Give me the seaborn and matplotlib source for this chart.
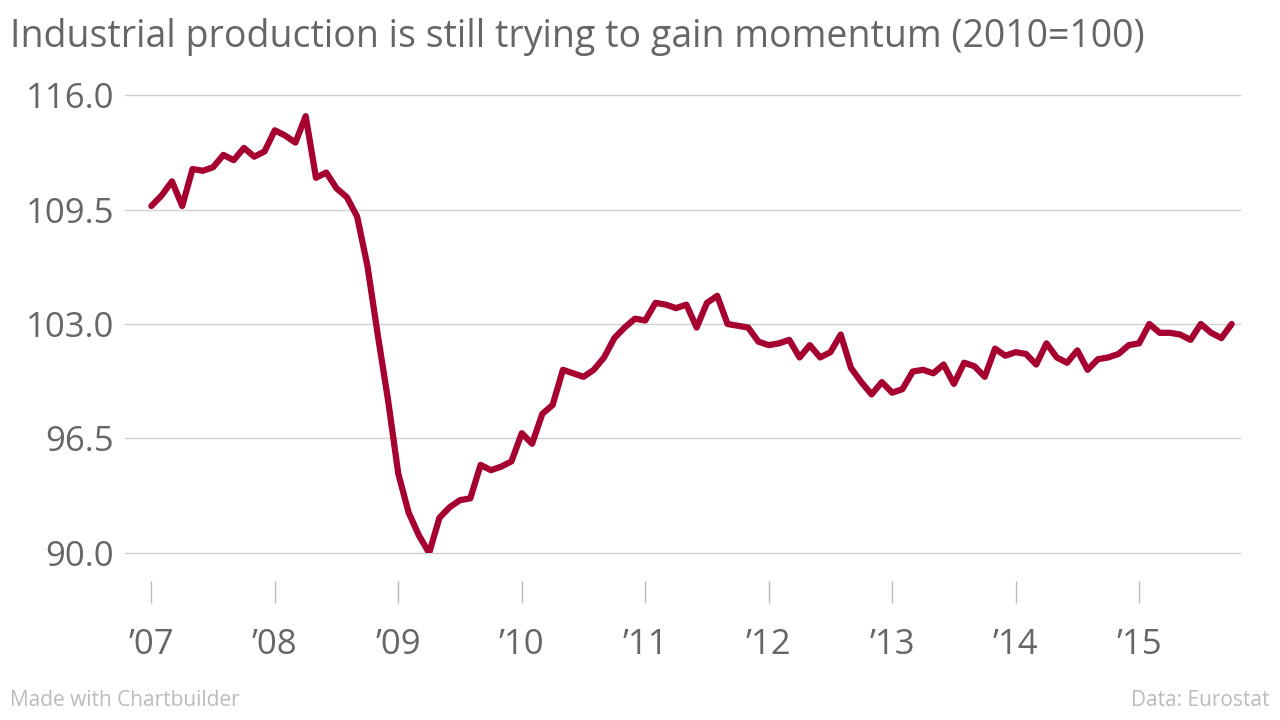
import numpy as np
import pandas as pd
import matplotlib.pyplot as plt
import seaborn as sns

# monthly index values, Jan 2007 - Oct 2015
y2007 = [109.7, 110.3, 111.1, 109.7, 111.8, 111.7, 111.9, 112.6, 112.3, 113.0, 112.5, 112.8]
y2008 = [114.0, 113.7, 113.3, 114.8, 111.3, 111.6, 110.7, 110.2, 109.1, 106.3, 102.4, 98.7]
y2009 = [94.5, 92.3, 91.0, 90.0, 92.0, 92.6, 93.0, 93.1, 95.0, 94.7, 94.9, 95.2]
y2010 = [96.8, 96.2, 97.9, 98.4, 100.4, 100.2, 100.0, 100.4, 101.1, 102.2, 102.8, 103.3]
y2011 = [103.2, 104.2, 104.1, 103.9, 104.1, 102.8, 104.2, 104.6, 103.0, 102.9, 102.8, 102.0]
y2012 = [101.8, 101.9, 102.1, 101.1, 101.8, 101.1, 101.4, 102.4, 100.5, 99.7, 99.0, 99.7]
y2013 = [99.1, 99.3, 100.3, 100.4, 100.2, 100.7, 99.6, 100.8, 100.6, 100.0, 101.6, 101.2]
y2014 = [101.4, 101.3, 100.7, 101.9, 101.1, 100.8, 101.5, 100.4, 101.0, 101.1, 101.3, 101.8]
y2015 = [101.9, 103.0, 102.5, 102.5, 102.4, 102.1, 103.0, 102.5, 102.2, 103.0]

values = y2007 + y2008 + y2009 + y2010 + y2011 + y2012 + y2013 + y2014 + y2015
years = [2007, 2008, 2009, 2010, 2011, 2012, 2013, 2014, 2015]
year_labels = ["\u201907", "\u201908", "\u201909", "\u201910", "\u201911", "\u201912", "\u201913", "\u201914", "\u201915"]
y_ticks = [90.0, 96.5, 103.0, 109.5, 116.0]

df = pd.DataFrame({"t": 2007 + np.arange(len(values)) / 12, "v": values})

sns.set_theme(style="white")
plt.rcParams['font.family'] = ['Open Sans', 'DejaVu Sans']
grey = "#666666"

fig = plt.figure(figsize=(12.8, 7.2), dpi=100)
ax = fig.add_axes([0.098, 0.232, 0.871, 0.636])
sns.lineplot(data=df, x="t", y="v", ax=ax, color="#a50030", linewidth=4.5)

ax.set_xlim(2006.79, 2015.82)
ax.set_ylim(90, 116)
ax.set_yticks(y_ticks)
ax.set_yticklabels([f"{t:.1f}" for t in y_ticks])
ax.yaxis.grid(True, color="#d0d0d0", linewidth=1)
ax.tick_params(axis="y", length=0, pad=8, labelsize=25, labelcolor=grey)
ax.set_xticks(years)
ax.set_xticklabels(year_labels)
ax.tick_params(axis="x", length=16, width=1, color="#bbbbbb", pad=18, direction="out",
               bottom=True, labelsize=25, labelcolor=grey)
for s in ["top", "right", "left"]:
    ax.spines[s].set_visible(False)
ax.spines["bottom"].set_position(("outward", 20))
ax.spines["bottom"].set_visible(False)
ax.set_xlabel("")
ax.set_ylabel("")
ax.set_axisbelow(True)
for line in ax.get_ygridlines():
    line.set_clip_on(False)

fig.text(0.008, 0.948, "Industrial production is still trying to gain momentum (2010=100)",
         fontsize=27, color=grey, va="center")
fig.text(0.008, 0.02, "Made with Chartbuilder", fontsize=15, color="#bbbbbb")
fig.text(0.992, 0.02, "Data: Eurostat", fontsize=15, color="#bbbbbb", ha="right")

fig.savefig("out.png", dpi=100)
